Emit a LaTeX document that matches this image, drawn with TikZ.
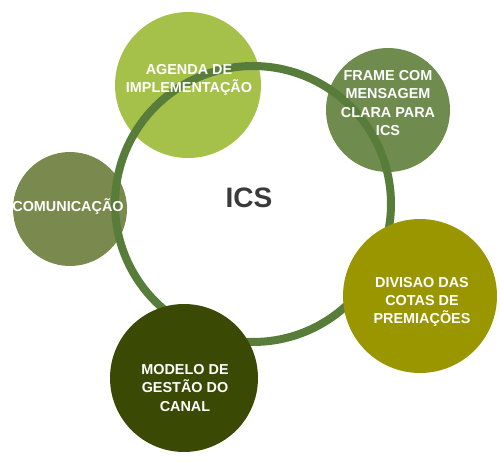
\documentclass[tikz,border=0pt]{standalone}
\usepackage{fontspec}
\newfontfamily\helv{Liberation Sans}
\definecolor{ringgreen}{RGB}{88,125,58}
\definecolor{agendagreen}{RGB}{165,193,74}
\definecolor{framegreen}{RGB}{111,140,78}
\definecolor{comgreen}{RGB}{122,138,78}
\definecolor{cotaolive}{RGB}{154,150,0}
\definecolor{modelodark}{RGB}{58,74,4}
\definecolor{icsgray}{RGB}{58,58,58}
\newcommand{\bubble}[4]{\node[bubble, fill=#2, minimum size=#3cm] (#1) at #4 {};}
\newcommand{\bubbletext}[3]{\node[label text] (#1) at #2 {#3};}

\begin{document}
\begin{tikzpicture}
		[x=0.02cm, y=-0.02cm,
		bubble/.style={circle, draw=none, inner sep=0pt},
		ring/.style={circle, draw=ringgreen, line width=0.16cm, inner sep=0pt, minimum size=5.52cm},
		label text/.style={text=white, align=center, font=\helv\bfseries\fontsize{8.2}{10.3}\selectfont},
		]
		\useasboundingbox (0,0) rectangle (500,463);
		\bubble{agenda}{agendagreen}{2.92}{(188,85)}
		\bubble{frame}{framegreen}{2.48}{(388,110)}
		\bubble{comunicacao}{comgreen}{2.28}{(70,209)}
		\node[ring] (ics) at (253,204) {};
		\bubble{cotas}{cotaolive}{3.08}{(420,296)}
		\bubble{modelo}{modelodark}{2.96}{(184,378)}
		\bubbletext{agendatext}{(189,80)}{AGENDA DE\\IMPLEMENTAÇÃO}
		\bubbletext{frametext}{(388,103)}{FRAME COM\\MENSAGEM\\CLARA PARA\\ICS}
		\bubbletext{comtext}{(68,207)}{COMUNICAÇÃO}
		\bubbletext{cotastext}{(422,302)}{DIVISAO DAS\\COTAS DE\\PREMIAÇÕES}
		\bubbletext{modelotext}{(185,388)}{MODELO DE\\GESTÃO DO\\CANAL}
		\node[text=icsgray, font=\helv\bfseries\fontsize{16}{18}\selectfont] (icstitle) at (249,198) {ICS};
	\end{tikzpicture}
\end{document}
